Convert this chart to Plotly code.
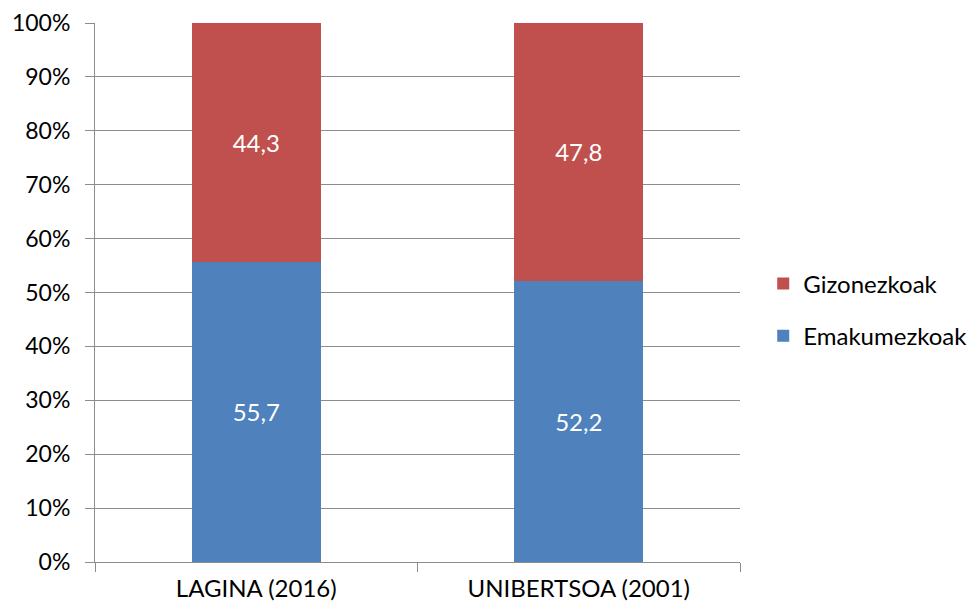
import plotly.graph_objects as go

categories = ["LAGINA (2016)", "UNIBERTSOA (2001)"]
emakumezkoak = [55.7, 52.2]
gizonezkoak = [44.3, 47.8]
ytick_vals = list(range(0, 101, 10))
ytick_text = [f"{v}%" for v in ytick_vals]

FONT = "Lato, Open Sans, sans-serif"

fig = go.Figure()
fig.add_trace(go.Bar(
    x=categories, y=emakumezkoak, name="Emakumezkoak", legendgroup="e",
    legendrank=2,
    marker=dict(color="#4F81BD", line=dict(width=0)),
    text=[f"{v:.1f}".replace(".", ",") for v in emakumezkoak],
    textposition="inside", insidetextanchor="middle",
    textfont=dict(color="white", size=24, family=FONT),
    width=0.4,
))
fig.add_trace(go.Bar(
    x=categories, y=gizonezkoak, name="Gizonezkoak", legendgroup="g",
    legendrank=1,
    marker=dict(color="#C0504D", line=dict(width=0)),
    text=[f"{v:.1f}".replace(".", ",") for v in gizonezkoak],
    textposition="inside", insidetextanchor="middle",
    textfont=dict(color="white", size=24, family=FONT),
    width=0.4,
))

fig.update_layout(
    barmode="stack",
    width=968, height=600,
    margin=dict(l=87, r=236, t=15, b=46, autoexpand=False),
    paper_bgcolor="white", plot_bgcolor="white",
    font=dict(family=FONT, size=24, color="black"),
    showlegend=True,
    legend=dict(
        x=1.036, xanchor="left", y=0.4675, yanchor="middle",
        traceorder="grouped", tracegroupgap=18,
        font=dict(size=24, family=FONT),
        bgcolor="rgba(0,0,0,0)",
    ),
    uniformtext=dict(mode=False),
)
fig.update_yaxes(
    range=[0, 100], tickvals=ytick_vals, ticktext=ytick_text,
    showgrid=True, gridcolor="#8C8C8C", gridwidth=1,
    showline=True, linecolor="#8C8C8C", linewidth=1,
    ticks="outside", ticklen=9, tickcolor="#8C8C8C",
    zeroline=False, fixedrange=True, automargin=False,
    tickfont=dict(size=23), ticklabelstandoff=10,
)
fig.update_xaxes(
    type="category",
    showline=True, linecolor="#8C8C8C", linewidth=1,
    ticks="outside", ticklen=9, tickcolor="#8C8C8C",
    tickson="boundaries", showgrid=False, automargin=False,
    tickfont=dict(size=24), ticklabelstandoff=5,
)

fig.write_html("out.html")
